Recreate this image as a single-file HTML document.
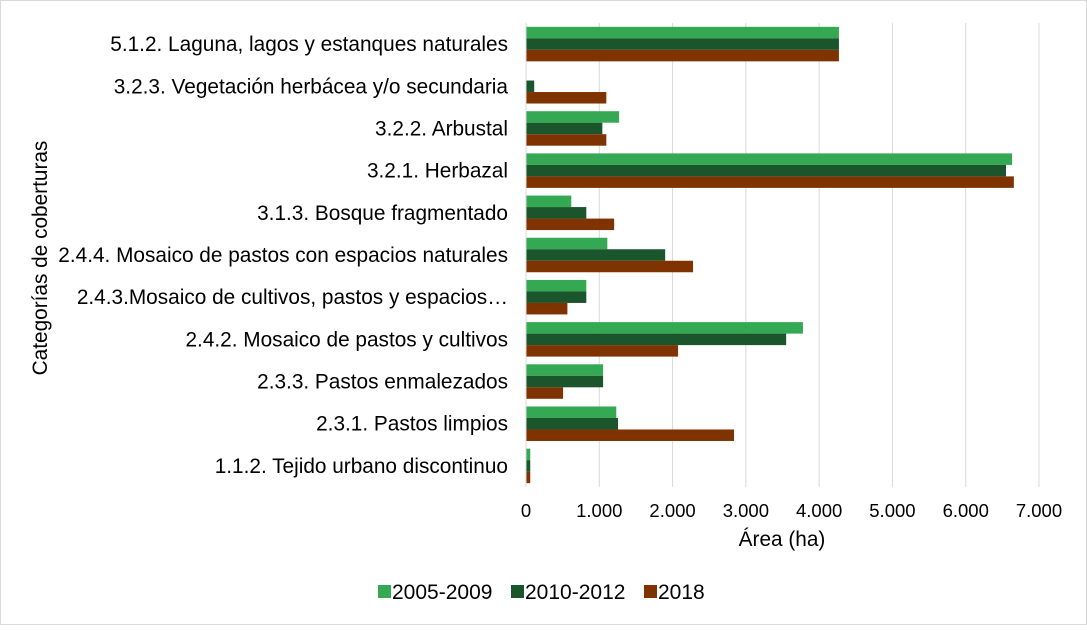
<!DOCTYPE html>
<html><head><meta charset="utf-8"><style>
body{margin:0;background:#fff;font-family:"Liberation Sans",sans-serif;}
#c{position:relative;width:1087px;height:625px;}
</style></head><body>
<div id="c">
<svg id="s" width="1087" height="625" xmlns="http://www.w3.org/2000/svg">
<rect x="0.5" y="0.5" width="1086" height="624" fill="#fff" stroke="#d9d9d9"/>
</svg>
</div>
<script>
const categories=["5.1.2. Laguna, lagos y estanques naturales","3.2.3. Vegetación herbácea y/o secundaria","3.2.2. Arbustal","3.2.1. Herbazal","3.1.3. Bosque fragmentado","2.4.4. Mosaico de pastos con espacios naturales","2.4.3.Mosaico de cultivos, pastos y espacios…","2.4.2. Mosaico de pastos y cultivos","2.3.3. Pastos enmalezados","2.3.1. Pastos limpios","1.1.2. Tejido urbano discontinuo"];
const s2005=[4270,0,1271,6633,618,1110,823,3779,1052,1232,58];
const s2010=[4270,112,1042,6550,823,1899,823,3550,1052,1256,58];
const s2018=[4270,1096,1096,6657,1203,2279,565,2075,506,2839,58];
const seriesNames=["2005-2009","2010-2012","2018"];
const ticks=[0,1000,2000,3000,4000,5000,6000,7000];
const tickLabels=["0","1.000","2.000","3.000","4.000","5.000","6.000","7.000"];
const colors=["#35a853","#1a552b","#7f3300"];
const NS="http://www.w3.org/2000/svg",svg=document.getElementById('s');
const x0=526,x1=1039,yTop=23,yBot=487;
const xs=v=>x0+(v/7000)*(x1-x0);
const band=(yBot-yTop)/categories.length;
function mk(t,a,txt){const e=document.createElementNS(NS,t);for(const k in a)e.setAttribute(k,a[k]);if(txt!=null)e.textContent=txt;svg.appendChild(e);return e;}
ticks.forEach((t,i)=>{
 const g=mk('line',{x1:xs(t),x2:xs(t),y1:yTop,y2:yBot,stroke:'#d9d9d9','stroke-width':1});
 
 
 const l=mk('text',{x:xs(t),y:517,'text-anchor':'middle','font-size':18.5,fill:'#000'},tickLabels[i]);
 
 
});
const all=[s2005,s2010,s2018];
const bh=11.5;
categories.forEach((c,i)=>{
 const cy=yTop+band*(i+0.5);
 const lab=mk('text',{x:508,y:cy+7,'text-anchor':'end','font-size':20.8,fill:'#000'},c);
 
 
 all.forEach((ser,j)=>{
  const y=cy-1.5*bh+j*bh;
  const r=mk('rect',{x:xs(0),y:y,width:Math.max(0,xs(ser[i])-xs(0)),height:bh,fill:colors[j]});
  
  
 });
});
const ax=mk('line',{x1:xs(0),x2:xs(0),y1:yTop,y2:yBot,stroke:'#d9d9d9'});


const xt=mk('text',{x:782,y:546,'text-anchor':'middle','font-size':20.8,fill:'#000'},'Área (ha)');


const yt=mk('text',{x:0,y:0,transform:'translate(47,258) rotate(-90)','text-anchor':'middle','font-size':20.8,fill:'#000'},'Categorías de coberturas');


const lx=[378,511,644];
seriesNames.forEach((n,j)=>{
 const sq=mk('rect',{x:lx[j],y:585,width:13,height:13,fill:colors[j]});
 
 
 const t=mk('text',{x:lx[j]+14,y:599,'font-size':21,fill:'#000'},n);
 
 
});
</script>
</body></html>
